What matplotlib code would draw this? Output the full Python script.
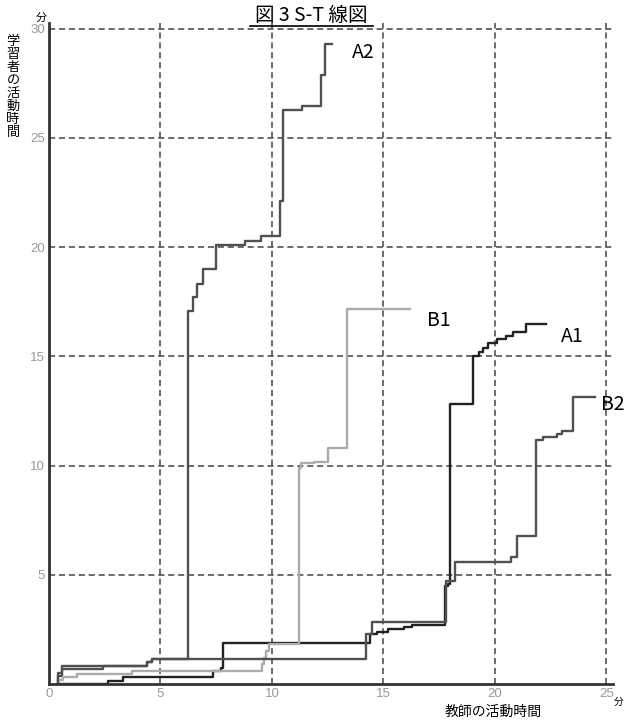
import matplotlib
matplotlib.use("Agg")
import matplotlib.pyplot as plt
from matplotlib.lines import Line2D

plt.rcParams['font.family'] = ['Noto Sans CJK JP', 'DejaVu Sans']

# step points: at x the curve jumps to y (last point closes the final level)
a1_x = [0.4, 2.65, 3.3, 7.35, 7.7, 7.8, 14.4, 14.7, 15.2, 15.9, 16.3, 17.75, 17.9, 18.0,
        19.0, 19.3, 19.45, 19.7, 20.1, 20.5, 20.8, 21.4, 22.3]
a1_y = [0.0, 0.13, 0.32, 0.6, 0.73, 1.87, 2.3, 2.4, 2.5, 2.6, 2.7, 4.5, 4.6, 12.8,
        15.0, 15.2, 15.4, 15.6, 15.8, 15.95, 16.1, 16.5, 16.5]

a2_x = [0.4, 0.4, 0.6, 2.4, 4.4, 4.6, 6.25, 6.45, 6.65, 6.9, 7.5, 8.8, 9.5, 10.35, 10.5,
        11.35, 12.2, 12.4, 12.7]
a2_y = [0.0, 0.35, 0.69, 0.82, 1.0, 1.15, 17.1, 17.7, 18.3, 19.0, 20.1, 20.3, 20.5, 22.1, 26.3,
        26.45, 27.9, 29.3, 29.3]

b1_x = [0.4, 0.4, 0.65, 1.25, 3.7, 9.55, 9.65, 9.75, 9.85, 11.2, 11.3, 11.9, 12.5, 13.35, 16.2]
b1_y = [0.0, 0.18, 0.32, 0.46, 0.61, 0.9, 1.2, 1.5, 1.83, 9.9, 10.1, 10.15, 10.8, 17.15, 17.15]

b2_x = [0.4, 0.4, 0.6, 4.4, 4.6, 14.2, 14.5, 17.8, 18.2, 20.7, 21.0, 21.85, 22.15, 22.8,
        23.0, 23.5, 24.5]
b2_y = [0.0, 0.5, 0.82, 1.0, 1.15, 2.3, 2.85, 4.7, 5.6, 5.8, 6.8, 11.15, 11.3, 11.45,
        11.6, 13.15, 13.15]

series = [
    ("A1", a1_x, a1_y, "#222222", (22.95, 15.9)),
    ("A2", a2_x, a2_y, "#505050", (13.6, 28.9)),
    ("B1", b1_x, b1_y, "#ababab", (16.95, 16.65)),
    ("B2", b2_x, b2_y, "#505050", (24.75, 12.8)),
]

x_ticks = [0, 5, 10, 15, 20, 25]
y_ticks = [5, 10, 15, 20, 25, 30]

fig = plt.figure(figsize=(6.25, 7.28), dpi=100)
ax = fig.add_axes([0.0784, 0.0604, 0.9026, 0.9076])

for name, xs, ys, col, (lx, ly) in series:
    ax.step(xs, ys, where='post', color=col, lw=1.7, zorder=3)
    ax.text(lx, ly, name, fontsize=14, va='center', ha='left', color='black',
            clip_on=False)

ax.set_xlim(0, 25.3)
ax.set_ylim(0, 30.25)
ax.set_xticks(x_ticks)
ax.set_yticks(y_ticks)
ax.tick_params(length=0, labelsize=9.5, labelcolor='#999999', pad=3)
for lab in ax.get_xticklabels() + ax.get_yticklabels():
    lab.set_family('Liberation Sans')

ax.grid(True, linestyle=(0, (4, 2.5)), color='#444444', lw=1.1)
for s in ['top', 'right']:
    ax.spines[s].set_visible(False)
for s in ['left', 'bottom']:
    ax.spines[s].set_color('#333333')
    ax.spines[s].set_linewidth(2)
    ax.spines[s].set_zorder(4)

# title with underline
fig.text(311 / 625, 1 - 15 / 728, "図 3 S-T 線図", fontsize=14, ha='center', va='center')
fig.add_artist(Line2D([250 / 625, 373 / 625], [1 - 26 / 728, 1 - 26 / 728],
                      color='black', lw=1.2))

# axis labels
fig.text(13 / 625, 1 - 87 / 728, "\n".join("学習者の活動時間"), fontsize=9.5,
         ha='center', va='center', linespacing=1.0)
fig.text(41 / 625, 1 - 18 / 728, "分", fontsize=8, ha='center', va='center')
fig.text(493 / 625, 1 - 712 / 728, "教師の活動時間", fontsize=10, ha='center', va='center')
fig.text(614 / 625, 1 - 702 / 728, "分", fontsize=7, ha='left', va='center')

fig.savefig("out.png", dpi=100)
